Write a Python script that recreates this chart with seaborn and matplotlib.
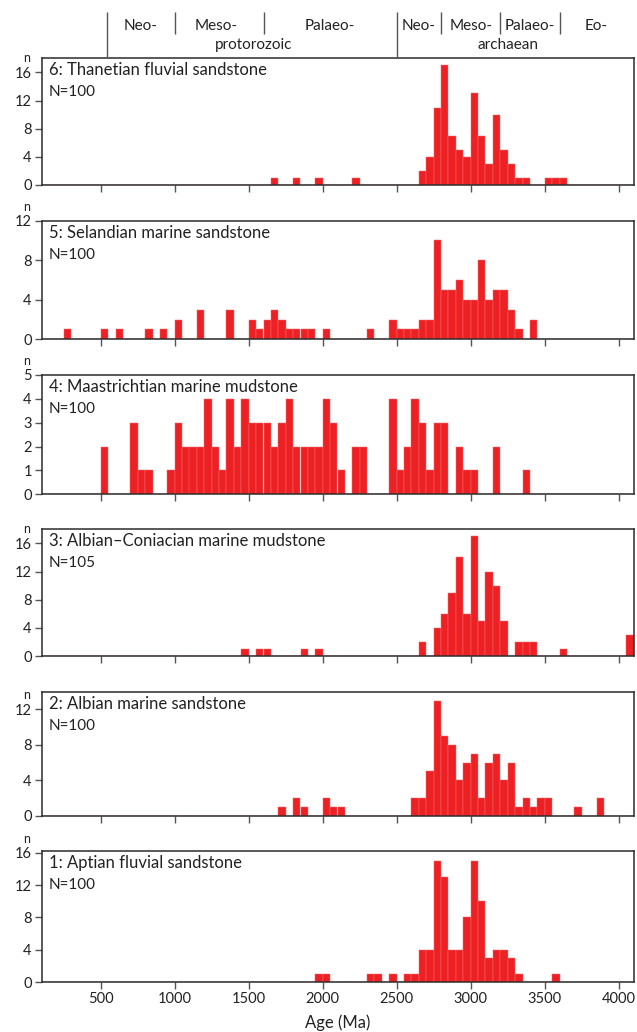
import numpy as np
import pandas as pd
import matplotlib
matplotlib.use("Agg")
import matplotlib.pyplot as plt
import matplotlib.transforms as mtransforms
import seaborn as sns

# ---------------- data (bin start ages, Ma; counts per 50 Ma bin) ----------------
p6_age = [1650, 1800, 1950, 2200, 2650, 2700, 2750, 2800, 2850, 2900, 2950, 3000,
          3050, 3100, 3150, 3200, 3250, 3300, 3350, 3500, 3550, 3600]
p6_n = [1, 1, 1, 1, 2, 4, 11, 17, 7, 5, 4, 13, 7, 3, 10, 5, 3, 1, 1, 1, 1, 1]

p5_age = [250, 500, 600, 800, 900, 1000, 1150, 1350, 1500, 1550, 1600, 1650, 1700,
          1750, 1800, 1850, 1900, 2000, 2300, 2450, 2500, 2550, 2600, 2650, 2700,
          2750, 2800, 2850, 2900, 2950, 3000, 3050, 3100, 3150, 3200, 3250, 3300, 3400]
p5_n = [1, 1, 1, 1, 1, 2, 3, 3, 2, 1, 2, 3, 2, 1, 1, 1, 1, 1, 1, 2, 1, 1, 1, 2, 2,
        10, 5, 5, 6, 4, 4, 8, 4, 5, 5, 3, 1, 2]

p4_age = [500, 700, 750, 800, 950, 1000, 1050, 1100, 1150, 1200, 1250, 1300, 1350,
          1400, 1450, 1500, 1550, 1600, 1650, 1700, 1750, 1800, 1850, 1900, 1950,
          2000, 2050, 2100, 2200, 2250, 2450, 2500, 2550, 2600, 2650, 2700, 2750,
          2800, 2900, 2950, 3000, 3150, 3350]
p4_n = [2, 3, 1, 1, 1, 3, 2, 2, 2, 4, 2, 1, 4, 2, 4, 3, 3, 3, 2, 3, 4, 2, 2, 2, 2,
        4, 3, 1, 2, 2, 4, 1, 2, 4, 3, 1, 3, 3, 2, 1, 1, 2, 1]

p3_age = [1450, 1550, 1600, 1850, 1950, 2650, 2750, 2800, 2850, 2900, 2950, 3000,
          3050, 3100, 3150, 3200, 3300, 3350, 3400, 3600, 4050]
p3_n = [1, 1, 1, 1, 1, 2, 4, 6, 9, 14, 6, 17, 5, 12, 10, 5, 2, 2, 2, 1, 3]

p2_age = [1700, 1800, 1850, 2000, 2050, 2100, 2600, 2650, 2700, 2750, 2800, 2850,
          2900, 2950, 3000, 3050, 3100, 3150, 3200, 3250, 3300, 3350, 3400, 3450,
          3500, 3700, 3850]
p2_n = [1, 2, 1, 2, 1, 1, 2, 2, 5, 13, 9, 8, 4, 6, 7, 2, 6, 7, 4, 6, 1, 2, 1, 2, 2, 1, 2]

p1_age = [1950, 2000, 2300, 2350, 2450, 2550, 2600, 2650, 2700, 2750, 2800, 2850,
          2900, 2950, 3000, 3050, 3100, 3150, 3200, 3250, 3300, 3550]
p1_n = [1, 1, 1, 1, 1, 1, 1, 4, 4, 15, 13, 4, 4, 8, 15, 10, 3, 4, 4, 3, 1, 1]

panel_titles = ["6: Thanetian fluvial sandstone", "5: Selandian marine sandstone",
                "4: Maastrichtian marine mudstone", "3: Albian\u2013Coniacian marine mudstone",
                "2: Albian marine sandstone", "1: Aptian fluvial sandstone"]
panel_N = ["N=100", "N=100", "N=100", "N=105", "N=100", "N=100"]
panel_yticks = [[0, 4, 8, 12, 16], [0, 4, 8, 12], [0, 1, 2, 3, 4, 5],
                [0, 4, 8, 12, 16], [0, 4, 8, 12], [0, 4, 8, 12, 16]]
panel_ymax = [18, 12, 5, 18, 14, 16.2]

x_ticks = [500, 1000, 1500, 2000, 2500, 3000, 3500, 4000]

eon_bounds_long = [541, 2500]
eon_bounds_short = [1000, 1600, 2800, 3200, 3600]
era_labels = ["Neo-", "Meso-", "Palaeo-", "Neo-", "Meso-", "Palaeo-", "Eo-"]
era_pos = [770, 1280, 2050, 2650, 3000, 3400, 3850]
eon_labels = ["protorozoic", "archaean"]
eon_pos = [1530, 3250]

# ---------------- style ----------------
sns.set_style("ticks")
plt.rcParams['font.family'] = ['Lato', 'DejaVu Sans']
RED = "#ED2124"
EDGE = "#F26A6C"
SPINE = "#2b2b2b"
TXT = "#222222"

W, H = 637, 1032
fig = plt.figure(figsize=(W / 100, H / 100), dpi=100)

# axes placement in pixels: (top, bottom)
boxes = [(58.3, 185.0), (220.7, 339.3), (375.0, 494.3), (529.3, 656.0),
         (691.7, 815.7), (851.0, 982.3)]
left_px, right_px = 41.5, 633.5

ages_all = [p6_age, p5_age, p4_age, p3_age, p2_age, p1_age]
counts_all = [p6_n, p5_n, p4_n, p3_n, p2_n, p1_n]

axes = []
for i, (top, bot) in enumerate(boxes):
    ax = fig.add_axes([left_px / W, 1 - bot / H, (right_px - left_px) / W, (bot - top) / H])
    axes.append(ax)
    df = pd.DataFrame({"age": np.array(ages_all[i], dtype=float) + 25.0,
                       "n": np.array(counts_all[i], dtype=float)})
    sns.histplot(data=df, x="age", weights="n", binwidth=50, binrange=(0, 4150),
                 ax=ax, color=RED, edgecolor=EDGE, linewidth=0.35, alpha=1)
    ax.set_xlim(100, 4100)
    ax.set_ylim(0, panel_ymax[i])
    ax.set_yticks(panel_yticks[i])
    ax.set_xticks(x_ticks)
    ax.set_ylabel("")
    ax.set_xlabel("")
    for s in ax.spines.values():
        s.set_visible(True)
        s.set_color(SPINE)
        s.set_linewidth(1.1)
    ax.tick_params(axis="both", direction="out", length=5, width=1, color="#555555",
                   labelsize=10.5, labelcolor=TXT, pad=2)
    if i < 5:
        ax.tick_params(axis="x", labelbottom=False)
    t1 = mtransforms.offset_copy(ax.transAxes, fig=fig, x=7.5, y=-12, units="dots")
    ax.text(0, 1, panel_titles[i], transform=t1, ha="left", va="center",
            fontsize=12, color=TXT)
    t2 = mtransforms.offset_copy(ax.transAxes, fig=fig, x=7.5, y=-34, units="dots")
    ax.text(0, 1, panel_N[i], transform=t2, ha="left", va="center",
            fontsize=11, color=TXT)
    tn = mtransforms.offset_copy(ax.get_yaxis_transform(), fig=fig, x=-14.5, y=14, units="dots")
    ax.text(0, panel_yticks[i][-1], "n", transform=tn, ha="center", va="center",
            fontsize=9, color=TXT)

axes[-1].set_xlabel("Age (Ma)", fontsize=12, color=TXT, labelpad=6)

# ---------------- header (geological time scale) ----------------
hax = fig.add_axes([left_px / W, 1 - 58 / H, (right_px - left_px) / W, 46 / H])
hax.set_xlim(100, 4100)
hax.set_ylim(0, 46)
hax.axis("off")
for b in eon_bounds_long:
    hax.plot([b, b], [0, 46], color="#555555", lw=1.0, solid_capstyle="butt")
for b in eon_bounds_short:
    hax.plot([b, b], [24, 46], color="#555555", lw=1.0, solid_capstyle="butt")
for lab, p in zip(era_labels, era_pos):
    hax.text(p, 32, lab, ha="center", va="center", fontsize=11, color=TXT)
for lab, p in zip(eon_labels, eon_pos):
    hax.text(p, 13, lab, ha="center", va="center", fontsize=11, color=TXT)

fig.savefig("out.png", dpi=100)
